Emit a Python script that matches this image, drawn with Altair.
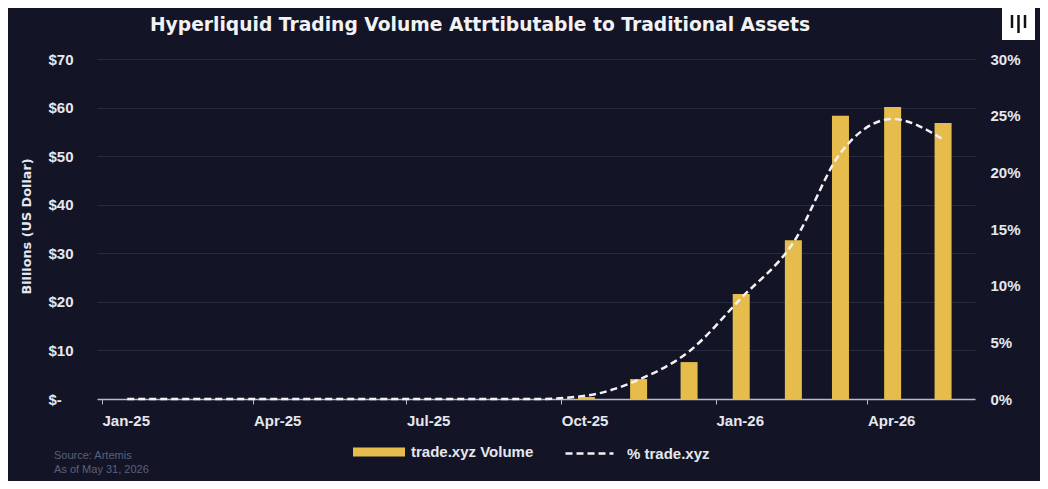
import altair as alt
import pandas as pd

# ---------------- data ----------------
months = ["2025-01", "2025-02", "2025-03", "2025-04", "2025-05", "2025-06",
          "2025-07", "2025-08", "2025-09", "2025-10", "2025-11", "2025-12",
          "2026-01", "2026-02", "2026-03", "2026-04", "2026-05"]
volume_bn = [0, 0, 0, 0, 0, 0, 0, 0, 0, 0.4, 4.1, 7.6, 21.6, 32.7, 58.3, 60.1, 56.8]
pct_share = [0, 0, 0, 0, 0, 0, 0, 0, 0, 0.3, 1.7, 4.2, 8.9, 13.8, 21.7, 24.7, 22.9]
left_ticks = [0, 10, 20, 30, 40, 50, 60, 70]
right_ticks = [0, 5, 10, 15, 20, 25, 30]
x_tick_months = [(2025, 1), (2025, 4), (2025, 7), (2025, 10), (2026, 1), (2026, 4)]
title_text = "Hyperliquid Trading Volume Attrtibutable to Traditional Assets"
footnote = ["Source: Artemis", "As of May 31, 2026"]
bar_name = "trade.xyz Volume"
line_name = "% trade.xyz"

df = pd.DataFrame({
    "date": [m + "-16T00:00:00" for m in months],
    "volume": volume_bn,
    "pct": pct_share,
    "bar_series": bar_name,
    "line_series": line_name,
})

BG = "#131527"
GOLD = "#E6BC4C"
WHITE = "#f2f2f4"
LABEL = "#e6e7ee"
FONT = "Liberation Sans"
WIDE = "DejaVu Sans"

x_enc = alt.X(
    "date:T",
    title=None,
    scale=alt.Scale(domain=[alt.DateTime(year=2025, month=1, date=1),
                            alt.DateTime(year=2026, month=6, date=1)]),
    axis=alt.Axis(
        values=[alt.DateTime(year=y, month=m, date=1) for y, m in x_tick_months],
        format="%b-%y", labelAlign="left", labelBaseline="top",
        labelFontSize=15, labelFontWeight="bold", labelColor=LABEL, labelFont=FONT,
        labelPadding=9, tickSize=5, tickColor="#b8bac4", domainColor="#b8bac4",
        domainWidth=1.5, grid=False, labelOverlap=False,
    ),
)

bars = alt.Chart(df).mark_bar(size=17).encode(
    x=x_enc,
    y=alt.Y("volume:Q",
            scale=alt.Scale(domain=[0, 70], nice=False),
            axis=alt.Axis(values=left_ticks,
                          labelExpr="datum.value == 0 ? '$-' : '$' + datum.value",
                          labelAlign="left", labelBaseline="middle", labelPadding=49,
                          labelFontSize=15, labelFontWeight="bold", labelColor=LABEL,
                          labelFont=FONT,
                          ticks=False, domain=False, grid=True, gridColor="#272a3e",
                          gridWidth=1,
                          title="Billions (US Dollar)", titleX=-64, titleY=167,
                          titleAlign="center", titleBaseline="bottom",
                          titleFontSize=12.8, titleFontWeight="bold",
                          titleColor=LABEL, titleFont=WIDE)),
    color=alt.Color("bar_series:N",
                    scale=alt.Scale(domain=[bar_name], range=[GOLD]),
                    legend=alt.Legend(title=None, orient="none", legendX=256, legendY=367,
                                      direction="horizontal", padding=0,
                                      symbolType="M-1,-0.17H1V0.17H-1Z", symbolSize=2704,
                                      symbolStrokeWidth=0, symbolOpacity=1,
                                      labelFontSize=15, labelFontWeight="bold",
                                      labelColor=LABEL, labelFont=FONT, labelOffset=6)),
)

line = alt.Chart(df).mark_line(color=WHITE, strokeWidth=2.5, interpolate="monotone").encode(
    x=x_enc,
    y=alt.Y("pct:Q",
            scale=alt.Scale(domain=[0, 30], nice=False),
            axis=alt.Axis(orient="right", values=right_ticks,
                          labelExpr="datum.value + '%'", labelAlign="left",
                          labelBaseline="middle", labelPadding=15,
                          labelFontSize=15, labelFontWeight="bold", labelColor=LABEL,
                          labelFont=FONT,
                          ticks=False, domain=False, grid=False, title=None)),
    strokeDash=alt.StrokeDash("line_series:N",
                              scale=alt.Scale(domain=[line_name], range=[[7, 4]]),
                              legend=alt.Legend(title=None, orient="none", legendX=467,
                                                legendY=369, direction="horizontal",
                                                padding=0, symbolType="stroke",
                                                symbolSize=2304, symbolStrokeColor=WHITE,
                                                symbolStrokeWidth=2.5, symbolDash=[7, 4],
                                                labelFontSize=15, labelFontWeight="bold",
                                                labelColor=LABEL, labelFont=FONT,
                                                labelOffset=12)),
)

one = pd.DataFrame({"k": [0]})

title = alt.Chart(one).mark_text(
    align="center", baseline="alphabetic", font=WIDE, fontSize=18.7,
    fontWeight="bold", color=WHITE,
).encode(x=alt.value(383), y=alt.value(-28), text=alt.value(title_text))

foot = alt.Chart(one).mark_text(
    align="left", baseline="alphabetic", font=FONT, fontSize=11,
    color="#5b6079", lineHeight=14,
).encode(x=alt.value(-43), y=alt.value(400), text=alt.value(footnote))

logo_box = alt.Chart(one).mark_rect(color="#ffffff").encode(
    x=alt.value(905), x2=alt.value(938), y=alt.value(-52), y2=alt.value(-19))


def logo_bar(px, top, bottom):
    return alt.Chart(one).mark_rule(color="#111111", strokeWidth=2.5).encode(
        x=alt.value(px), y=alt.value(top), y2=alt.value(bottom))


chart = alt.layer(
    bars, line, title, foot, logo_box,
    logo_bar(915, -44, -31), logo_bar(921.5, -44, -26), logo_bar(928, -44, -31),
).resolve_scale(
    y="independent", color="independent", strokeDash="independent"
).properties(
    width=878, height=340,
    padding={"left": 89, "top": 51, "right": 65, "bottom": 82},
    autosize=alt.AutoSizeParams(type="none"),
    background=BG,
).configure(font=FONT).configure_view(stroke="transparent", strokeWidth=0)

chart.save("out.html", embed_options={"renderer": "svg", "actions": False})
